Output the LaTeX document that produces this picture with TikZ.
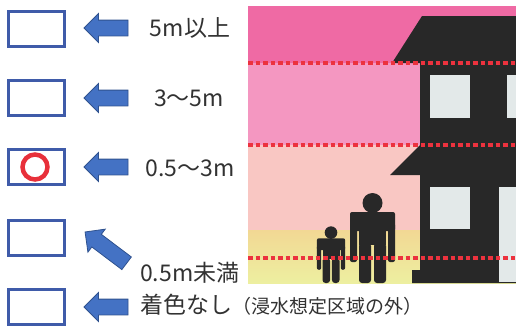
\documentclass[tikz,border=0pt]{standalone}
\usepackage{fontspec}
\setmainfont{Noto Sans CJK JP}
\usetikzlibrary{shapes.arrows, positioning}
\definecolor{boxblue}{RGB}{63,91,169}
\definecolor{arrblue}{RGB}{68,114,196}
\definecolor{arrframe}{RGB}{47,82,143}
\definecolor{ringred}{RGB}{232,48,58}
\definecolor{txtgray}{RGB}{50,50,50}
\definecolor{bandtop}{RGB}{239,106,164}
\definecolor{bandmid}{RGB}{244,151,193}
\definecolor{bandlow}{RGB}{249,199,195}
\definecolor{bandyelA}{RGB}{242,216,148}
\definecolor{bandyelB}{RGB}{237,239,160}
\definecolor{housedark}{RGB}{40,40,40}
\definecolor{winlight}{RGB}{227,233,233}
\definecolor{dotred}{RGB}{236,50,62}
\tikzset{
  markbox/.style={rectangle, draw=boxblue, line width=3pt,
    minimum width=56pt, minimum height=35pt, inner sep=0pt},
  blockarrow/.style={single arrow, draw=arrframe, fill=arrblue, line width=0.8pt,
    minimum height=44pt, minimum width=28pt, inner xsep=0pt, inner ysep=7.5pt,
    single arrow head extend=6.5pt, shape border rotate=180},
  lvltext/.style={font=\fontsize{23}{23}\selectfont, text=txtgray, inner sep=0pt},
  floodline/.style={dotred, line width=4pt, dash pattern=on 4.5pt off 3pt},
  person/.pic={
    \fill[housedark] (0,-80) circle (10);
    \fill[housedark, rounded corners=2] (-22.5,-71) rectangle (22.5,-52);
    \fill[housedark, rounded corners=2] (-22.5,-60) rectangle (-15.5,-21);
    \fill[housedark, rounded corners=2] (15.5,-60) rectangle (22.5,-21);
    \fill[housedark] (-13.5,-60) rectangle (13.5,-38);
    \fill[housedark, rounded corners=3] (-13.5,-40) rectangle (-1.5,0);
    \fill[housedark, rounded corners=3] (1.5,-40) rectangle (13.5,0);
  }
}

\begin{document}
\begin{tikzpicture}[x=1pt, y=-1pt]
  \useasboundingbox (0,0) rectangle (516,327);

  % --- FLOOD DEPTH BANDS ---
  \fill[bandtop] (248,6) rectangle (516,63);
  \fill[bandmid] (248,63) rectangle (516,145);
  \fill[bandlow] (248,145) rectangle (516,230);
  \shade[top color=bandyelA, bottom color=bandyelB] (248,230) rectangle (516,283);

  % --- HOUSE ---
  \fill[housedark] (422,16) -- (516,16) -- (516,283) -- (412,283) -- (412,270) -- (420,270)
    -- (420,175) -- (390,175) -- (420,145) -- (420,63) -- (392,63) -- cycle;
  \fill[winlight] (430,75) rectangle (470,118);
  \fill[winlight] (507,75) rectangle (516,118);
  \fill[winlight] (430,187) rectangle (470,229);
  \fill[winlight] (499,187) rectangle (516,282);

  % --- PEOPLE ---
  \pic at (372.5,283) {person};
  \pic[scale=0.63] at (331,283) {person};

  % --- DEPTH LINES ---
  \draw[floodline] (248,63) -- (516,63);
  \draw[floodline] (248,145) -- (516,145);
  \draw[floodline] (248,258) -- (516,258);

  % --- CHECK BOXES ---
  \node[markbox] (box1) at (36.5,28.5) {};
  \node[markbox] (box2) at (36.5,98) {};
  \node[markbox] (box3) at (36.5,167) {};
  \node[markbox] (box4) at (36.5,237.5) {};
  \node[markbox] (box5) at (36.5,306.5) {};
  \node[circle, draw=ringred, line width=4.5pt, minimum size=25pt, inner sep=0pt] (ring) at (35,167) {};

  % --- ARROWS ---
  \node[blockarrow] (arr1) at (110,28) {};
  \node[blockarrow] (arr2) at (110,98) {};
  \node[blockarrow] (arr3) at (110,167) {};
  \node[blockarrow, minimum height=52pt, rotate=-37] (arr4) at (109,250) {};
  \node[blockarrow] (arr5) at (110,307) {};

  % --- LEVEL LABELS ---
  \node[lvltext] (lab1) at (190,28) {5m以上};
  \node[lvltext] (lab2) at (189,98) {3〜5m};
  \node[lvltext] (lab3) at (190,168) {0.5〜3m};
  \node[lvltext, anchor=west] (lab4) at (140,273) {0.5m未満};
  \node[lvltext, anchor=west] (lab5) at (140,305) {着色なし\fontsize{19}{19}\selectfont（浸水想定区域の外）};
\end{tikzpicture}
\end{document}
